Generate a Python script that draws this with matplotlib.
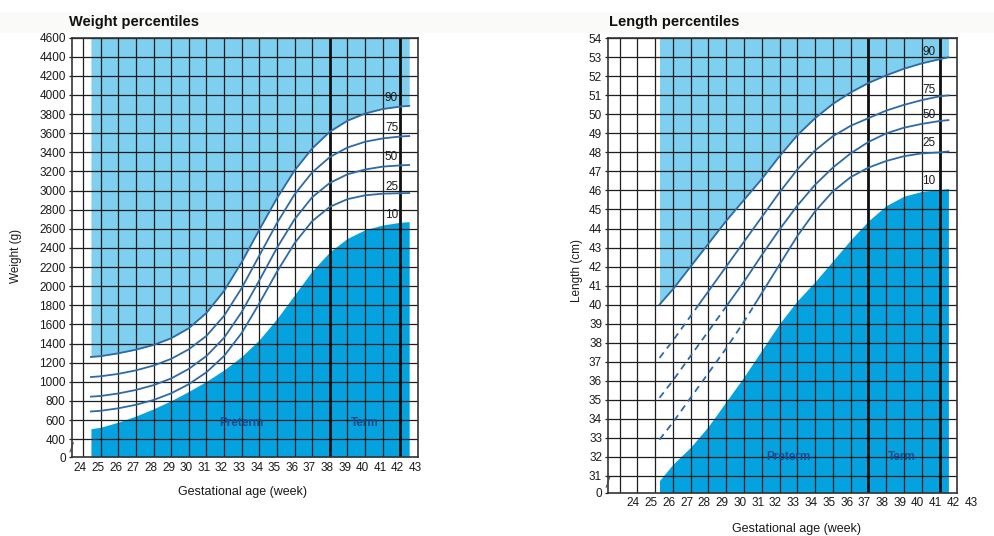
import numpy as np
import matplotlib
matplotlib.use("Agg")
import matplotlib.pyplot as plt
from matplotlib.patches import Rectangle
from matplotlib.transforms import offset_copy

# ---------------- data ----------------
# Weight chart (g)
weight_weeks = [24.45, 25, 26, 27, 28, 29, 30, 31, 32, 33, 34, 35, 36, 37, 38, 39, 40, 41, 42, 42.5]
weight_p90 = [1260, 1268, 1298, 1336, 1385, 1455, 1560, 1720, 1950, 2250, 2590, 2920, 3210, 3440, 3615, 3730, 3805, 3852, 3878, 3885]
weight_p75 = [1050, 1058, 1083, 1120, 1170, 1240, 1340, 1480, 1690, 1980, 2320, 2660, 2960, 3190, 3350, 3450, 3510, 3545, 3565, 3570]
weight_p50 = [845, 852, 878, 915, 965, 1035, 1135, 1270, 1460, 1730, 2060, 2400, 2700, 2930, 3080, 3170, 3220, 3250, 3263, 3267]
weight_p25 = [690, 697, 723, 760, 810, 880, 975, 1100, 1270, 1510, 1820, 2150, 2450, 2680, 2830, 2910, 2950, 2967, 2972, 2974]
weight_p10 = [510, 525, 578, 642, 718, 803, 900, 1005, 1125, 1265, 1440, 1660, 1910, 2160, 2360, 2500, 2590, 2640, 2668, 2675]
weight_yticks = list(range(400, 4601, 200))
weight_week_labels = list(range(24, 44))
weight_grid_weeks = list(range(24, 43))
weight_term_lines = [38, 42]
weight_pct_labels = ["90", "75", "50", "25", "10"]
weight_pct_label_values = [3964, 3651, 3347, 3040, 2744]

# Length chart (cm)
length_weeks = [25.25, 26, 27, 28, 29, 30, 31, 32, 33, 34, 35, 36, 37, 38, 39, 40, 41, 41.5]
length_p90 = [40.0, 40.8, 42.0, 43.2, 44.4, 45.5, 46.6, 47.8, 48.9, 49.8, 50.55, 51.15, 51.65, 52.05, 52.4, 52.68, 52.9, 53.0]
length_p75 = [37.2, 38.1, 39.4, 40.7, 42.0, 43.3, 44.6, 45.9, 47.1, 48.1, 48.85, 49.4, 49.8, 50.2, 50.5, 50.75, 50.95, 51.0]
length_p50 = [35.1, 36.0, 37.3, 38.6, 39.9, 41.2, 42.6, 43.95, 45.2, 46.3, 47.2, 47.95, 48.55, 49.0, 49.3, 49.5, 49.65, 49.7]
length_p25 = [32.9, 33.8, 35.1, 36.4, 37.7, 39.1, 40.6, 42.1, 43.6, 44.9, 45.95, 46.7, 47.2, 47.55, 47.8, 47.95, 48.0, 48.05]
length_p10 = [30.75, 31.6, 32.5, 33.6, 34.9, 36.2, 37.6, 39.0, 40.2, 41.2, 42.3, 43.4, 44.4, 45.2, 45.7, 45.95, 46.05, 46.1]
length_yticks = list(range(31, 55))
length_week_labels = list(range(24, 44))
length_grid_weeks = list(range(23, 42))
length_term_lines = [37, 41]
length_pct_labels = ["90", "75", "50", "25", "10"]
length_pct_label_values = [53.3, 51.28, 49.97, 48.48, 46.51]

# ---------------- style ----------------
W, H = 994, 536
LIGHT = "#7fcff0"
DARK = "#05a2e0"
LINE = "#2f6aa3"
GRID = "#1e1e1e"
TXT = "#1a1a1a"
ZONE_TXT = "#1d4a8a"
FONT = ["Liberation Sans", "DejaVu Sans"]
plt.rcParams["font.family"] = FONT

fig = plt.figure(figsize=(W / 100, H / 100), dpi=100)
fig.patch.set_facecolor("white")
# faint band along the top of the picture
fig.patches.append(Rectangle((0, 1 - 33 / H), 1, 21 / H, transform=fig.transFigure,
                             facecolor="#fafaf9", edgecolor="none", zorder=0))


def px_axes(x0, y0, x1, y1):
    return fig.add_axes([x0 / W, 1 - y1 / H, (x1 - x0) / W, (y1 - y0) / H])


def ftext(x, y, s, **kw):
    fig.text(x / W, 1 - y / H, s, **kw)


def setup(ax, xlim, ylim, yticks, grid_weeks, term_lines, week_labels, xlab_dx):
    ax.set_xlim(*xlim)
    ax.set_ylim(*ylim)
    ax.set_facecolor("white")
    for w in grid_weeks:
        ax.axvline(w, color=GRID, lw=0.9, zorder=2)
    for v in yticks:
        ax.axhline(v, color=GRID, lw=0.9, zorder=2)
    for w in term_lines:
        ax.axvline(w, color="#111111", lw=2.0, zorder=2.5)
    ax.set_xticks([])
    ax.set_yticks([ylim[0]] + yticks)
    ax.set_yticklabels(["0"] + [str(v) for v in yticks])
    ax.tick_params(axis="y", direction="out", length=2.5, width=0.9, pad=2.0,
                   labelsize=8.5, color=GRID, labelcolor=TXT)
    for s in ax.spines.values():
        s.set_color("#333333")
        s.set_linewidth(1.2)
        s.set_zorder(5)
    tr = offset_copy(ax.get_xaxis_transform(), fig=fig, x=xlab_dx, y=-10.7, units="dots")
    for w in week_labels:
        ax.text(w, 0, str(w), transform=tr, ha="center", va="center",
                fontsize=8.5, color=TXT, clip_on=False)
    # small axis-break mark near the "0"
    ax.plot([-0.006, 0.004], [0.012, 0.034], transform=ax.transAxes, color="#444444",
            lw=0.7, clip_on=False, zorder=6)


# ---------------- weight chart ----------------
axL = px_axes(72, 37.5, 418, 457)
wl_lim = (23.376, 43)
wl_ylim = (214, 4600)
setup(axL, wl_lim, wl_ylim, weight_yticks, weight_grid_weeks, weight_term_lines,
      weight_week_labels, -2.7)
axL.fill_between(weight_weeks, weight_p90, wl_ylim[1], color=LIGHT, lw=0, zorder=1)
axL.fill_between(weight_weeks, wl_ylim[0], weight_p10, color=DARK, lw=0, zorder=1)
for vals in [weight_p90, weight_p75, weight_p50, weight_p25]:
    axL.plot(weight_weeks, vals, color=LINE, lw=1.3, zorder=3, solid_joinstyle="round")
for lab, v in zip(weight_pct_labels, weight_pct_label_values):
    axL.text(41.5, v, lab, ha="center", va="center", fontsize=8.5, color=TXT, zorder=4)
axL.text(33.0, 570, "Preterm", ha="center", va="center", fontsize=8.5, fontweight="bold",
         color=ZONE_TXT, zorder=4)
axL.text(40.0, 570, "Term", ha="center", va="center", fontsize=8.5, fontweight="bold",
         color=ZONE_TXT, zorder=4)

# ---------------- length chart ----------------
axR = px_axes(608.3, 38.3, 957.3, 492.7)
ll_lim = (22.37, 42.0)
ll_ylim = (30.11, 54)
setup(axR, ll_lim, ll_ylim, length_yticks, length_grid_weeks, length_term_lines,
      length_week_labels, -4.0)
axR.fill_between(length_weeks, length_p90, ll_ylim[1], color=LIGHT, lw=0, zorder=1)
axR.fill_between(length_weeks, ll_ylim[0], length_p10, color=DARK, lw=0, zorder=1)
axR.plot(length_weeks, length_p90, color=LINE, lw=1.3, zorder=3, solid_joinstyle="round")
split = 40.0
for vals in [length_p75, length_p50, length_p25]:
    solid, = axR.plot(length_weeks, vals, color=LINE, lw=1.3, zorder=3, solid_joinstyle="round")
    solid.set_clip_path(Rectangle((ll_lim[0], split), ll_lim[1] - ll_lim[0],
                                  ll_ylim[1] - split, transform=axR.transData))
    dashed, = axR.plot(length_weeks, vals, color=LINE, lw=1.3, zorder=3,
                       ls=(0, (3.8, 2.8)))
    dashed.set_clip_path(Rectangle((ll_lim[0], ll_ylim[0]), ll_lim[1] - ll_lim[0],
                                   split - ll_ylim[0], transform=axR.transData))
for lab, v in zip(length_pct_labels, length_pct_label_values):
    axR.text(40.4, v, lab, ha="center", va="center", fontsize=8.5, color=TXT, zorder=4)
axR.text(32.5, 32.0, "Preterm", ha="center", va="center", fontsize=8.5, fontweight="bold",
         color=ZONE_TXT, zorder=4)
axR.text(38.9, 32.0, "Term", ha="center", va="center", fontsize=8.5, fontweight="bold",
         color=ZONE_TXT, zorder=4)

# ---------------- titles and axis labels ----------------
ftext(69, 21.7, "Weight percentiles", fontsize=10.5, fontweight="bold", ha="left",
      va="center", color="#111111")
ftext(609, 21.7, "Length percentiles", fontsize=10.5, fontweight="bold", ha="left",
      va="center", color="#111111")
ftext(16, 256, "Weight (g)", rotation=90, fontsize=8.5, ha="center", va="center", color=TXT)
ftext(577, 271, "Length (cm)", rotation=90, fontsize=8.5, ha="center", va="center", color=TXT)
ftext(242.5, 491.7, "Gestational age (week)", fontsize=9, ha="center", va="center", color=TXT)
ftext(796.7, 529.3, "Gestational age (week)", fontsize=9, ha="center", va="center", color=TXT)

fig.savefig("out.png", dpi=100, facecolor="white")
